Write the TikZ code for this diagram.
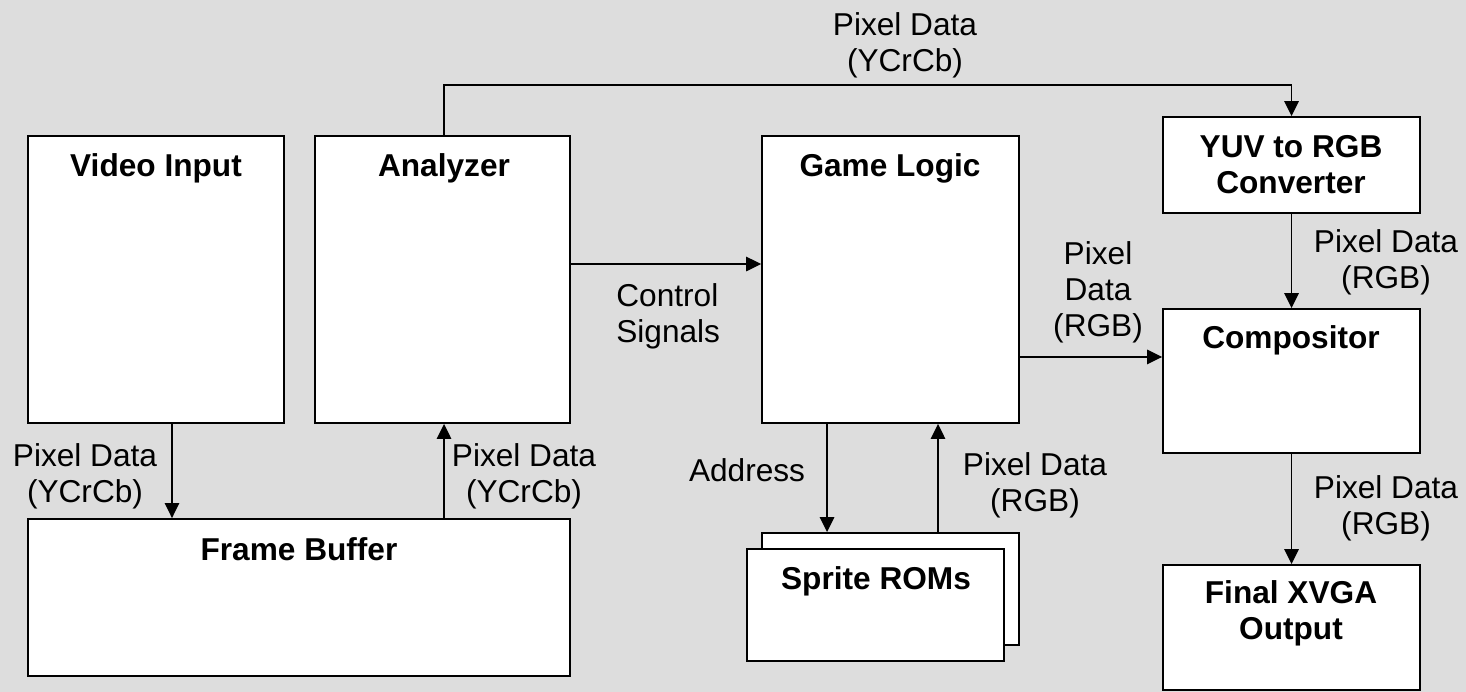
\documentclass[tikz,border=0pt]{standalone}
\usepackage{fontspec}
\setmainfont{Liberation Sans}
\usetikzlibrary{arrows.meta}

\definecolor{bggray}{RGB}{221,221,221}

\tikzset{
  block/.style={draw, fill=white, line width=1.1pt, inner sep=0pt},
  title/.style={font=\fontsize{18}{20.5}\selectfont\bfseries, align=center, inner sep=0pt, text height=13pt, text depth=0pt},
  lbl/.style={font=\fontsize{18}{20.5}\selectfont, align=center, inner sep=0pt, text height=13pt, text depth=0pt},
  arr/.style={-{Triangle[length=3mm,width=2.9mm]}, line width=0.9pt},
}

\begin{document}
\begin{tikzpicture}[x=0.02cm,y=-0.02cm]
%background, fixes the size
\fill[bggray] (0,0) rectangle (1466,692);

%blocks
\node[block, minimum width=5.12cm, minimum height=5.74cm] (video) at (156,279.5) {};
\node[block, minimum width=5.1cm, minimum height=5.74cm] (anlz) at (442.5,279.5) {};
\node[block, minimum width=10.84cm, minimum height=3.14cm] (fbuf) at (299,597.5) {};
\node[block, minimum width=5.14cm, minimum height=5.74cm] (game) at (890.5,279.5) {};
\node[block, minimum width=5.14cm, minimum height=2.24cm] (spriteb) at (890.5,589) {};
\node[block, minimum width=5.14cm, minimum height=2.24cm] (spritef) at (875.5,605) {};
\node[block, minimum width=5.14cm, minimum height=1.92cm] (yuv) at (1291.5,165) {};
\node[block, minimum width=5.14cm, minimum height=2.88cm] (comp) at (1291.5,381) {};
\node[block, minimum width=5.14cm, minimum height=2.5cm] (final) at (1291.5,627.5) {};

%block titles (y is the last line)
\node[title] (videot) at (156,165) {Video Input};
\node[title] (anlzt) at (444,165) {Analyzer};
\node[title] (fbuft) at (299,549) {Frame Buffer};
\node[title] (gamet) at (890,165) {Game Logic};
\node[title] (spritet) at (876,578) {Sprite ROMs};
\node[title] (yuvt) at (1291,182) {YUV to RGB\\Converter};
\node[title] (compt) at (1291,337) {Compositor};
\node[title] (finalt) at (1291,628) {Final XVGA\\Output};

%connectors
\draw[arr] ([xshift=0.32cm]video.south) -- ([xshift=0.32cm]video.south |- fbuf.north);
\draw[arr] ([xshift=0.03cm]anlz.south |- fbuf.north) -- ([xshift=0.03cm]anlz.south);
\draw[arr] ([xshift=0.03cm]anlz.north) -- ++(0,-50) -| (yuv.north);
\draw[arr] ([yshift=0.31cm]anlz.east) -- ([yshift=0.31cm]game.west);
\draw[arr] ([yshift=-1.55cm]game.east) -- ([yshift=-1.55cm]game.east -| comp.west);
\draw[arr] (yuv.south) -- (comp.north);
\draw[arr] (comp.south) -- (final.north);
\draw[arr] ([xshift=-1.27cm]game.south) -- ([xshift=-1.27cm]game.south |- spriteb.north);
\draw[arr] ([xshift=0.95cm]game.south |- spriteb.north) -- ([xshift=0.95cm]game.south);

%connector labels
\node[lbl] (ycc1) at (905,60) {Pixel Data\\(YCrCb)};
\node[lbl, anchor=west, align=left] (ctrl) at (616,331) {Control\\Signals};
\node[lbl] (rgb1) at (1098,325) {Pixel\\Data\\(RGB)};
\node[lbl] (rgb2) at (1386,277) {Pixel Data\\(RGB)};
\node[lbl] (rgb3) at (1386,523) {Pixel Data\\(RGB)};
\node[lbl] (rgb4) at (1035,500) {Pixel Data\\(RGB)};
\node[lbl] (addr) at (747,470) {Address};
\node[lbl] (ycc2) at (85,491) {Pixel Data\\(YCrCb)};
\node[lbl] (ycc3) at (524,491) {Pixel Data\\(YCrCb)};

\end{tikzpicture}
\end{document}
